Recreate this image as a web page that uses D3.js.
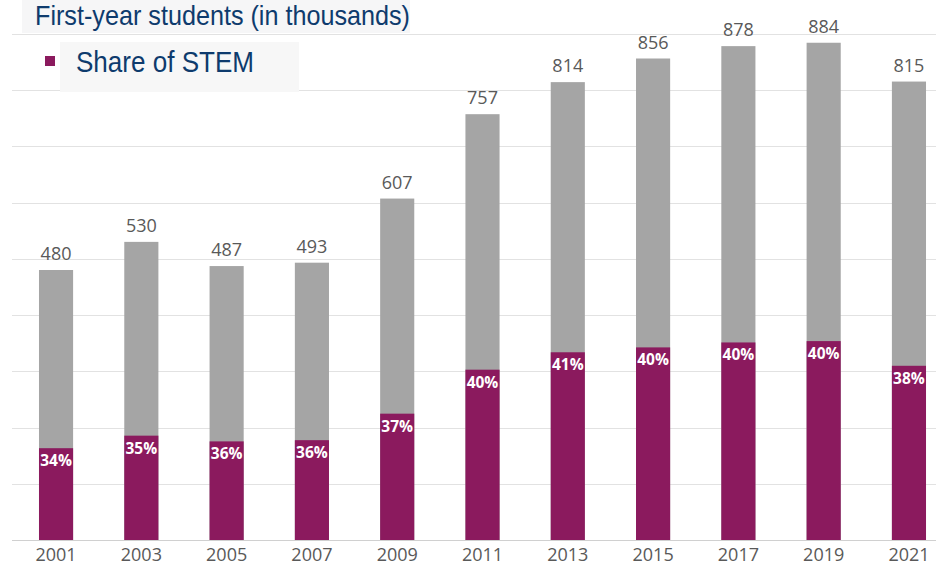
<!DOCTYPE html>
<html>
<head>
<meta charset="utf-8">
<script src="https://cdn.jsdelivr.net/npm/d3@7"></script>
<style>
  body { margin: 0; background: #fff; }
  svg { display: block; }
</style>
</head>
<body>
<svg id="chart"></svg>
<script>
// data
var years = ["2001", "2003", "2005", "2007", "2009", "2011", "2013", "2015", "2017", "2019", "2021"];
var totals = [480, 530, 487, 493, 607, 757, 814, 856, 878, 884, 815];
var stemShare = [34, 35, 36, 36, 37, 40, 41, 40, 40, 40, 38];
var gridTicks = [0, 100, 200, 300, 400, 500, 600, 700, 800, 900];

var width = 936, height = 568;
var svg = d3.select('#chart').attr('width', width).attr('height', height);

var baseline = 540;
var yScale = d3.scaleLinear()
  .domain([0, 900])
  .range([baseline, baseline - 900 * 0.5625]);

var xScale = d3.scaleBand()
  .domain(years)
  .range([13.4, 951.6])
  .paddingInner(0.6)
  .paddingOuter(0.3);

var rows = years.map(function(y, i) {
  return { year: y, total: totals[i], share: stemShare[i], stem: totals[i] * stemShare[i] / 100 };
});

// gridlines
svg.append('g')
  .selectAll('line')
  .data(gridTicks)
  .enter().append('line')
  .attr('x1', 12)
  .attr('x2', width)
  .attr('y1', function(d) { return Math.round(yScale(d)) + 0.5; })
  .attr('y2', function(d) { return Math.round(yScale(d)) + 0.5; })
  .attr('stroke', function(d) { return d === 0 ? '#d0d0d0' : '#e2e2e2'; })
  .attr('stroke-width', 1.2);

// gray total bars
svg.append('g')
  .selectAll('rect')
  .data(rows)
  .enter().append('rect')
  .attr('x', function(d) { return xScale(d.year); })
  .attr('width', xScale.bandwidth())
  .attr('y', function(d) { return yScale(d.total); })
  .attr('height', function(d) { return baseline - yScale(d.total); })
  .attr('fill', '#a5a5a5');

// purple STEM part
svg.append('g')
  .selectAll('rect')
  .data(rows)
  .enter().append('rect')
  .attr('x', function(d) { return xScale(d.year); })
  .attr('width', xScale.bandwidth())
  .attr('y', function(d) { return yScale(d.stem); })
  .attr('height', function(d) { return baseline - yScale(d.stem); })
  .attr('fill', '#8b1a5e');

// total labels
svg.append('g')
  .selectAll('text')
  .data(rows)
  .enter().append('text')
  .attr('x', function(d) { return xScale(d.year) + xScale.bandwidth() / 2; })
  .attr('y', function(d) { return yScale(d.total) - 10; })
  .attr('text-anchor', 'middle')
  .attr('font-family', 'Open Sans, sans-serif')
  .attr('font-size', 18)
  .attr('fill', '#595959')
  .text(function(d) { return d.total; });

// share labels
svg.append('g')
  .selectAll('text')
  .data(rows)
  .enter().append('text')
  .attr('x', function(d) { return xScale(d.year) + xScale.bandwidth() / 2; })
  .attr('y', function(d) { return yScale(d.stem) + 18; })
  .attr('text-anchor', 'middle')
  .attr('font-family', 'Open Sans, sans-serif')
  .attr('font-weight', 'bold')
  .attr('font-size', 15.5)
  .attr('fill', '#ffffff')
  .text(function(d) { return d.share + '%'; });

// x axis labels
var xAxis = d3.axisBottom(xScale).tickSize(0).tickPadding(0);
var axisG = svg.append('g')
  .attr('transform', 'translate(0,' + 548 + ')')
  .call(xAxis);
axisG.select('.domain').remove();
axisG.selectAll('text')
  .attr('dy', '0.71em')
  .attr('font-family', 'Open Sans, sans-serif')
  .attr('font-size', 18)
  .attr('fill', '#595959');

// title and legend boxes
svg.append('rect')
  .attr('x', 22).attr('y', 0)
  .attr('width', 388).attr('height', 33)
  .attr('fill', '#f6f6f7');
svg.append('text')
  .attr('x', 35).attr('y', 25)
  .attr('font-family', 'Liberation Sans, Arial, sans-serif')
  .attr('font-size', 28)
  .attr('textLength', 375)
  .attr('lengthAdjust', 'spacingAndGlyphs')
  .attr('fill', '#0e3b6d')
  .text('First-year students (in thousands)');

svg.append('rect')
  .attr('x', 60).attr('y', 42)
  .attr('width', 239).attr('height', 50)
  .attr('fill', '#f7f7f7');
svg.append('rect')
  .attr('x', 45).attr('y', 56)
  .attr('width', 10).attr('height', 10)
  .attr('fill', '#8b1a5e');
svg.append('text')
  .attr('x', 76).attr('y', 72)
  .attr('font-family', 'Liberation Sans, Arial, sans-serif')
  .attr('font-size', 30)
  .attr('textLength', 178)
  .attr('lengthAdjust', 'spacingAndGlyphs')
  .attr('fill', '#0e3b6d')
  .text('Share of STEM');
</script>
</body>
</html>
